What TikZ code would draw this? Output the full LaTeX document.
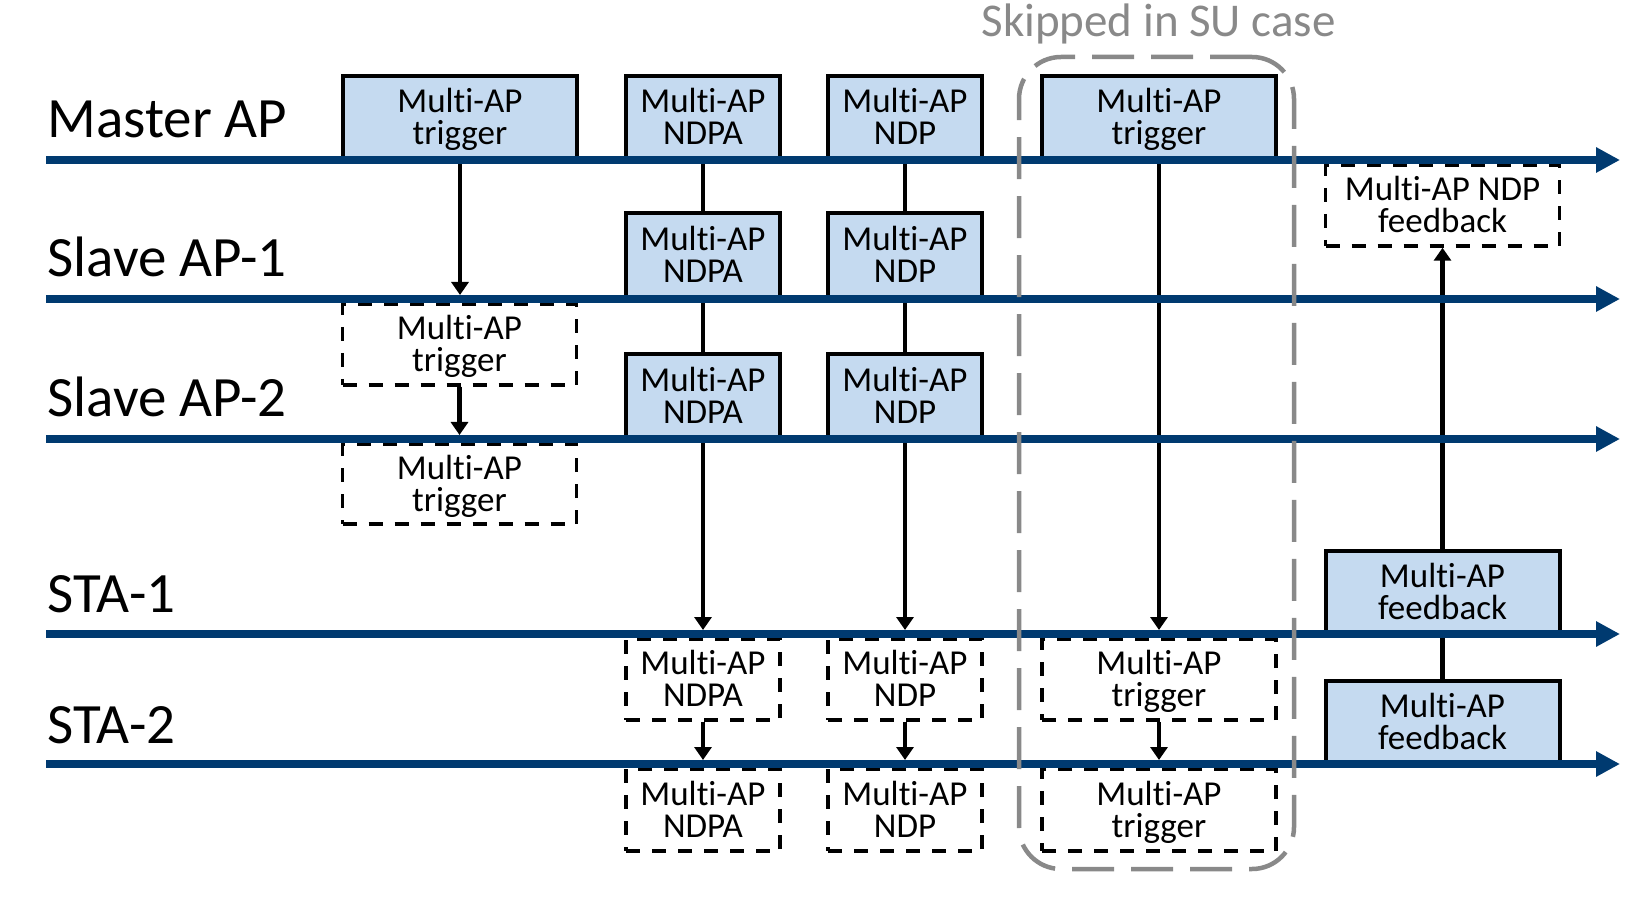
\documentclass[tikz,border=0pt]{standalone}
\usepackage{fontspec}
\setmainfont{Carlito}[Ligatures={NoCommon,NoContextual}]
\usetikzlibrary{arrows.meta}
\definecolor{laneblue}{RGB}{0,58,112}
\definecolor{boxblue}{RGB}{197,218,240}
\definecolor{skipgray}{RGB}{137,137,137}
\begin{document}
\begin{tikzpicture}[x=0.5pt,y=-0.5pt,
  lbl/.style={anchor=base west, inner sep=0, font=\fontsize{28.5}{30}\selectfont},
  msg/.style={inner sep=0, align=center, font=\fontsize{17.5}{16}\selectfont, text height=27pt, text depth=0pt},
  solidbox/.style={msg, draw=black, line width=2pt, fill=boxblue},
  dashbox/.style={msg, draw=black, fill=white, line width=1.75pt, dash pattern=on 7pt off 6pt},
  wide/.style={minimum width=117pt},
  narrow/.style={minimum width=77pt},
  conn/.style={draw=black, line width=2.2pt},
  arr/.style={conn, -{Triangle[length=6.5pt,width=8.5pt]}},
  lane/.style={draw=laneblue, line width=4pt, -{Triangle[length=12pt,width=12pt]}},
  skipbox/.style={draw=skipgray, line width=2.25pt, dash pattern=on 21pt off 8.5pt, rounded corners=21pt, inner sep=0},
]
\useasboundingbox (0,0) rectangle (1636,897);

% lane edge coordinates
\coordinate (l1t) at (0,295);
\coordinate (l2t) at (0,435);
\coordinate (l3t) at (0,630);
\coordinate (l3b) at (0,638);
\coordinate (l4t) at (0,760);

% solid boxes
\node[solidbox, wide,   minimum height=41.5pt] (mtrig)  at (460,117.5) {Multi-AP\\trigger};
\node[solidbox, narrow, minimum height=41.5pt] (mndpa)  at (703,117.5) {Multi-AP\\NDPA};
\node[solidbox, narrow, minimum height=41.5pt] (mndp)   at (905,117.5) {Multi-AP\\NDP};
\node[solidbox, wide,   minimum height=41.5pt] (mskip)  at (1159,117.5) {Multi-AP\\trigger};
\node[solidbox, narrow, minimum height=42.5pt] (s1ndpa) at (703,255.5) {Multi-AP\\NDPA};
\node[solidbox, narrow, minimum height=42.5pt] (s1ndp)  at (905,255.5) {Multi-AP\\NDP};
\node[solidbox, narrow, minimum height=42pt]   (s2ndpa) at (703,396) {Multi-AP\\NDPA};
\node[solidbox, narrow, minimum height=42pt]   (s2ndp)  at (905,396) {Multi-AP\\NDP};
\node[solidbox, wide,   minimum height=41pt]   (fb1)    at (1442.5,592) {Multi-AP\\feedback};
\node[solidbox, wide,   minimum height=41pt]   (fb2)    at (1442.5,722) {Multi-AP\\feedback};

% dashed boxes
\node[dashbox, wide,   minimum height=40.5pt] (d1trig) at (459.5,344.5) {Multi-AP\\trigger};
\node[dashbox, wide,   minimum height=40pt]   (d2trig) at (459.5,484) {Multi-AP\\trigger};
\node[dashbox, wide,   minimum height=40.5pt] (dfb)    at (1442.5,205.5) {Multi-AP NDP\\feedback};
\node[dashbox, narrow, minimum height=40.5pt] (d3ndpa) at (703,679.5) {Multi-AP\\NDPA};
\node[dashbox, narrow, minimum height=40.5pt] (d3ndp)  at (905,679.5) {Multi-AP\\NDP};
\node[dashbox, wide,   minimum height=40.5pt] (d3trig) at (1159,679.5) {Multi-AP\\trigger};
\node[dashbox, narrow, minimum height=41pt]   (d4ndpa) at (703,810) {Multi-AP\\NDPA};
\node[dashbox, narrow, minimum height=41pt]   (d4ndp)  at (905,810) {Multi-AP\\NDP};
\node[dashbox, wide,   minimum height=41pt]   (d4trig) at (1159,810) {Multi-AP\\trigger};

% connectors
\draw[arr] (mtrig.south) -- (mtrig.south |- l1t);
\draw[arr] (d1trig.south) -- (d1trig.south |- l2t);
\draw[conn] (mndpa.south) -- (s1ndpa.north);
\draw[conn] (s1ndpa.south) -- (s2ndpa.north);
\draw[arr] (s2ndpa.south) -- (s2ndpa.south |- l3t);
\draw[arr] (d3ndpa.south) -- (d3ndpa.south |- l4t);
\draw[conn] (mndp.south) -- (s1ndp.north);
\draw[conn] (s1ndp.south) -- (s2ndp.north);
\draw[arr] (s2ndp.south) -- (s2ndp.south |- l3t);
\draw[arr] (d3ndp.south) -- (d3ndp.south |- l4t);
\draw[arr] (mskip.south) -- (mskip.south |- l3t);
\draw[arr] (d3trig.south) -- (d3trig.south |- l4t);
\draw[arr] (fb1.north) -- (dfb.south);
\draw[conn] (fb1.south |- l3b) -- (fb2.north);

% lanes
\coordinate (a0) at (46,160);  \coordinate (b0) at (1620,160);
\coordinate (a1) at (46,299);  \coordinate (b1) at (1620,299);
\coordinate (a2) at (46,439);  \coordinate (b2) at (1620,439);
\coordinate (a3) at (46,634);  \coordinate (b3) at (1620,634);
\coordinate (a4) at (46,764);  \coordinate (b4) at (1620,764);
\draw[lane] (a0) -- (b0);
\draw[lane] (a1) -- (b1);
\draw[lane] (a2) -- (b2);
\draw[lane] (a3) -- (b3);
\draw[lane] (a4) -- (b4);

% skipped region
\node[skipbox, minimum width=137.5pt, minimum height=406pt] (skip) at (1156.5,463) {};
\node[anchor=base, inner sep=0, text=skipgray, font=\fontsize{23.5}{25}\selectfont] (skiplbl) at (1158.5,37) {Skipped in SU case};

% lane labels
\node[lbl] (lmaster) at (47,138) {Master AP};
\node[lbl] (lslave1) at (47,277) {Slave AP-1};
\node[lbl] (lslave2) at (47,417) {Slave AP-2};
\node[lbl] (lsta1)   at (47,612) {STA-1};
\node[lbl] (lsta2)   at (47,743) {STA-2};
\end{tikzpicture}
\end{document}
